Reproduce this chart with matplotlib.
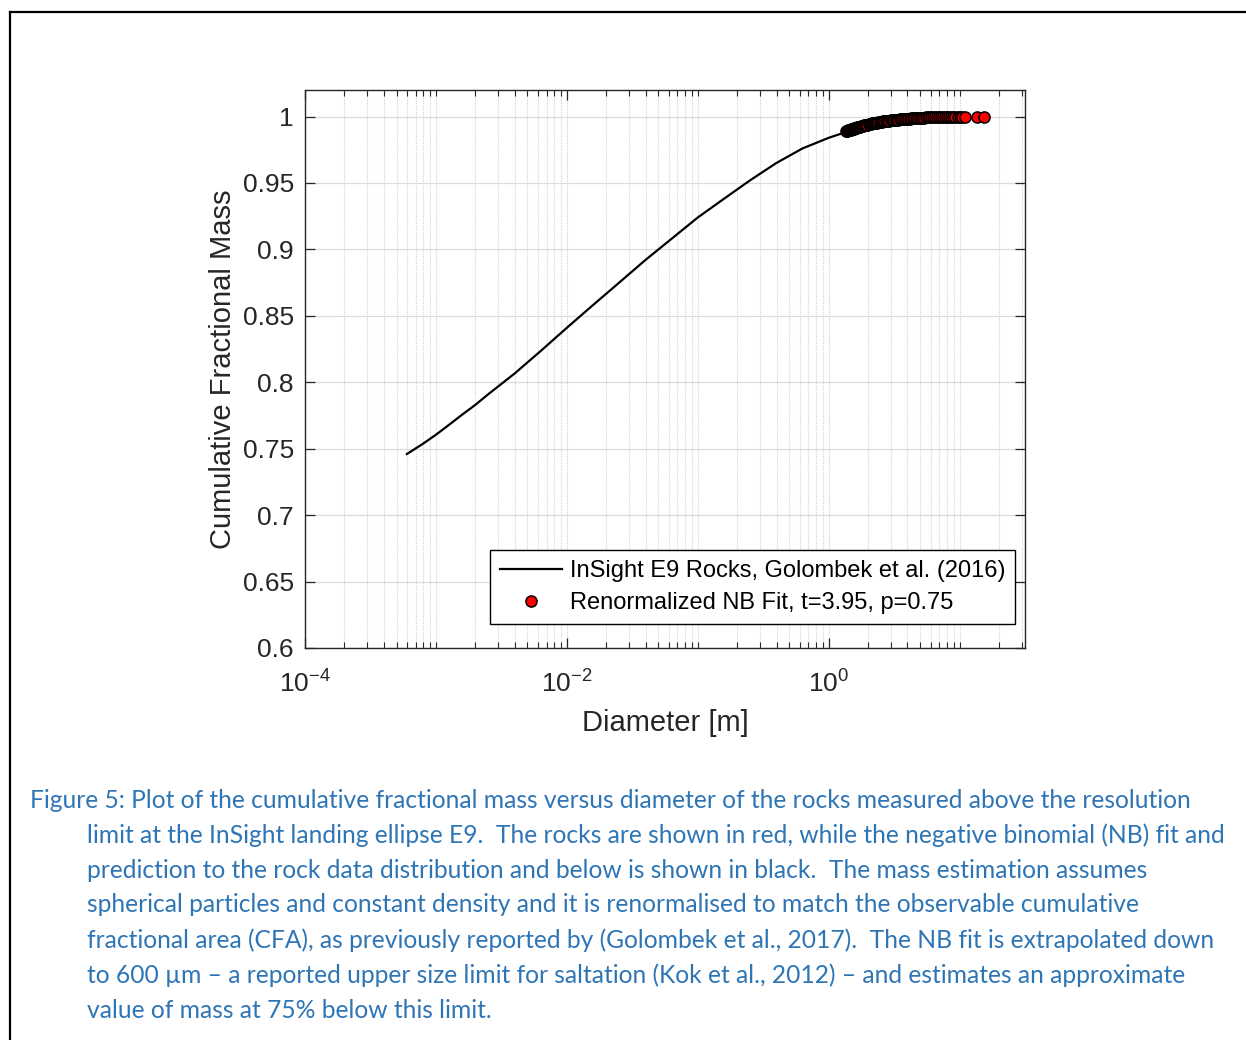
import numpy as np
import matplotlib
matplotlib.use('Agg')
import matplotlib.pyplot as plt
from matplotlib.lines import Line2D

plt.rcParams['font.family'] = ['Liberation Sans', 'DejaVu Sans']
plt.rcParams['mathtext.default'] = 'regular'

# NB fit curve (diameter in m, cumulative fractional mass)
fit_d = [6e-4, 7.9e-4, 1e-3, 1.26e-3, 1.58e-3, 2e-3, 2.51e-3, 3.98e-3, 6.31e-3, 1e-2, 1.58e-2,
         2.51e-2, 3.98e-2, 6.31e-2, 0.1, 0.158, 0.251, 0.398, 0.631, 1.0, 1.41, 2.0, 3.0, 5.0, 8.0]
fit_m = [0.746, 0.7535, 0.7605, 0.768, 0.7755, 0.783, 0.791, 0.8065, 0.8235, 0.841, 0.858,
         0.875, 0.892, 0.908, 0.924, 0.938, 0.952, 0.965, 0.976, 0.984, 0.9889, 0.9933, 0.9968,
         0.9992, 1.0]

# rocks (renormalized NB fit points)
rock_d = [1.35, 1.37, 1.39, 1.41, 1.43, 1.45,
          1.47, 1.49, 1.51, 1.53, 1.55, 1.57, 1.59, 1.61, 1.63, 1.65,
          1.68, 1.71, 1.74, 1.77, 1.80, 1.83, 1.86, 1.89, 1.92, 1.95, 1.98,
          2.02, 2.06, 2.10, 2.14, 2.18, 2.22, 2.26, 2.30,
          2.35, 2.40, 2.45, 2.50, 2.55, 2.60,
          2.66, 2.72, 2.78, 2.84, 2.90,
          2.97, 3.04, 3.11, 3.18, 3.25,
          3.33, 3.41, 3.49, 3.57,
          3.66, 3.75, 3.84, 3.94,
          4.04, 4.15, 4.26, 4.38,
          4.50, 4.63, 4.76, 4.90,
          5.05, 5.20, 5.36, 5.53,
          5.70, 5.88, 6.07, 6.27,
          6.48, 6.70, 6.93, 7.17,
          7.42, 7.68, 7.95, 8.25, 8.55,
          8.9, 9.3, 9.7, 10.1, 10.5, 11.1, 13.7, 15.5]
rock_m = [0.9888, 0.9891, 0.9893, 0.9896, 0.9898, 0.9900,
          0.9902, 0.9904, 0.9906, 0.9908, 0.9910, 0.9912, 0.9914, 0.9916, 0.9917, 0.9919,
          0.9921, 0.9923, 0.9925, 0.9927, 0.9929, 0.9931, 0.9933, 0.9935, 0.9936, 0.9938, 0.9940,
          0.9942, 0.9944, 0.9946, 0.9948, 0.9949, 0.9951, 0.9952, 0.9954,
          0.9955, 0.9957, 0.9958, 0.9960, 0.9961, 0.9963,
          0.9964, 0.9966, 0.9967, 0.9968, 0.9970,
          0.9971, 0.9972, 0.9973, 0.9974, 0.9975,
          0.9976, 0.9977, 0.9978, 0.9979,
          0.9980, 0.9981, 0.9982, 0.9983,
          0.9984, 0.9985, 0.9986, 0.9987,
          0.9988, 0.9989, 0.9990, 0.9991,
          0.9992, 0.9993, 0.9993, 0.9994,
          0.9995, 0.9995, 0.9996, 0.9996,
          0.9997, 0.9997, 0.9998, 0.9998,
          0.9999, 0.9999, 0.9999, 1.0, 1.0,
          1.0, 1.0, 1.0, 1.0, 1.0, 1.0, 1.0, 1.0]

caption = [
    "Figure 5: Plot of the cumulative fractional mass versus diameter of the rocks measured above the resolution",
    "limit at the InSight landing ellipse E9.  The rocks are shown in red, while the negative binomial (NB) fit and",
    "prediction to the rock data distribution and below is shown in black.  The mass estimation assumes",
    "spherical particles and constant density and it is renormalised to match the observable cumulative",
    "fractional area (CFA), as previously reported by (Golombek et al., 2017).  The NB fit is extrapolated down",
    "to 600 \u00b5m \u2013 a reported upper size limit for saltation (Kok et al., 2012) \u2013 and estimates an approximate",
    "value of mass at 75% below this limit.",
]

W, H = 1246, 1040
fig = plt.figure(figsize=(W / 100, H / 100), dpi=100)
ax = fig.add_axes([305 / W, 1 - 648 / H, 720 / W, 558 / H])

tc = '#262626'
ax.plot(fit_d, fit_m, color='k', lw=1.6, label='InSight E9 Rocks, Golombek et al. (2016)', zorder=3)
ax.plot(rock_d, rock_m, 'o', ls='none', mfc='#ff0000', mec='k', mew=1.1, ms=8.0,
        label='Renormalized NB Fit, t=3.95, p=0.75', zorder=4)

ax.set_xscale('log')
ax.set_xlim(1e-4, 10 ** 1.5)
ax.set_ylim(0.6, 1.02)
ax.set_xticks([1e-4, 1e-2, 1e0])
ax.set_xticklabels(['$10^{-4}$', '$10^{-2}$', '$10^{0}$'])
minors = [m * 10.0 ** k for k in range(-4, 2) for m in range(1, 10)]
minors = [v for v in minors if v not in (1e-4, 1e-2, 1.0) and v <= 10 ** 1.5]
ax.set_xticks(minors, minor=True)
ax.set_xticklabels([], minor=True)
ax.set_yticks(np.arange(0.6, 1.001, 0.05))
ax.set_yticklabels(['0.6', '0.65', '0.7', '0.75', '0.8', '0.85', '0.9', '0.95', '1'])

ax.grid(True, which='major', axis='y', color='#dcdcdc', lw=0.9)
ax.grid(True, which='major', axis='x', color='#d0d0d0', lw=0.8, ls=(0, (1, 1)))
ax.grid(True, which='minor', axis='x', color='#d4d4d4', lw=0.8, ls=(0, (1, 1)))
ax.set_axisbelow(True)

ax.tick_params(which='both', direction='in', top=True, right=True, colors=tc,
               labelsize=19, labelcolor=tc)
ax.tick_params(which='major', length=7, width=0.9)
ax.tick_params(which='minor', length=4, width=0.8)
ax.tick_params(axis='x', pad=16)
ax.tick_params(axis='y', pad=8)
for s in ax.spines.values():
    s.set_color(tc)
    s.set_linewidth(1.0)

ax.set_xlabel('Diameter [m]', fontsize=21, color=tc, labelpad=8)
ax.set_ylabel('Cumulative Fractional Mass', fontsize=21, color=tc, labelpad=4)

leg = ax.legend(loc='upper left', bbox_to_anchor=((490 - 305) / 720, (648 - 550) / 558),
                borderaxespad=0, fontsize=17, fancybox=False, edgecolor='k', framealpha=1,
                handlelength=2.65, handletextpad=0.3, borderpad=0.42, labelspacing=0.42)
leg.get_frame().set_linewidth(1.0)
for t in leg.get_texts():
    t.set_color('k')

# page border
fig.add_artist(Line2D([10 / W, 1], [1 - 12 / H, 1 - 12 / H], color='k', lw=1.6))
fig.add_artist(Line2D([10 / W, 10 / W], [0, 1 - 12 / H], color='k', lw=1.6))

# caption
cap_color = '#2E75B6'
fs = 16.0
probe = fig.text(0, 0, caption[0], fontsize=fs, family=['Lato', 'DejaVu Sans'])
fig.canvas.draw()
wpx = probe.get_window_extent().width
probe.remove()
fs = fs * 1167 / wpx
for i, line in enumerate(caption):
    x0 = 30 if i == 0 else 87
    fig.text(x0 / W, 1 - (800 + 35 * i) / H, line, fontsize=fs, color=cap_color,
             family=['Lato', 'DejaVu Sans'], va='center', ha='left')

fig.savefig('out.png', dpi=100)
